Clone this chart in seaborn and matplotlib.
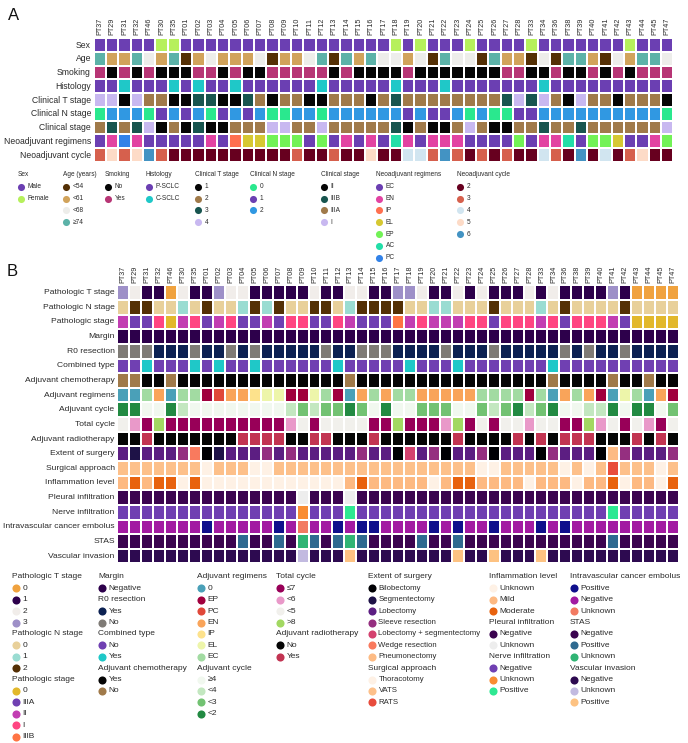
import numpy as np
import pandas as pd
import matplotlib
matplotlib.use("Agg")
import matplotlib.pyplot as plt
import seaborn as sns
from matplotlib.colors import ListedColormap

sns.set_style("white")
plt.rcParams["font.family"] = ["Liberation Sans", "DejaVu Sans"]

W, H = 688, 743
TXT = "#2a2a2a"

patients = ["PT37", "PT29", "PT31", "PT32", "PT46", "PT30", "PT35", "PT01", "PT02", "PT03",
            "PT04", "PT05", "PT06", "PT07", "PT08", "PT09", "PT10", "PT11", "PT12", "PT13",
            "PT14", "PT15", "PT16", "PT17", "PT18", "PT19", "PT20", "PT21", "PT22", "PT23",
            "PT24", "PT25", "PT26", "PT27", "PT28", "PT33", "PT34", "PT36", "PT38", "PT39",
            "PT40", "PT41", "PT42", "PT43", "PT44", "PT45", "PT47"]

# ---------------- panel A : baseline / neoadjuvant ----------------
sex_cats = ["Male", "Female"]
sex_cols = ["#6b3fb2", "#b6f05c"]
sex = [0, 0, 0, 0, 0, 1, 1, 0, 0, 0,
       0, 0, 0, 0, 0, 0, 0, 0, 0, 0,
       0, 0, 0, 0, 1, 0, 1, 0, 0, 0,
       1, 0, 0, 0, 0, 1, 0, 0, 0, 0,
       0, 0, 0, 1, 0, 0, 0]

age_cats = ["<54", "<61", "<68", "\u226574"]
age_cols = ["#543005", "#d1a35b", "#ededea", "#5cb2a8"]
age = [3, 1, 1, 3, 2, 1, 3, 0, 1, 2,
       1, 1, 1, 2, 0, 1, 1, 2, 3, 0,
       3, 1, 3, 2, 2, 1, 2, 0, 3, 2,
       2, 0, 3, 1, 1, 0, 2, 0, 3, 3,
       1, 0, 2, 1, 3, 3, 2]

smoking_cats = ["No", "Yes"]
smoking_cols = ["#050505", "#b73575"]
smoking = [1, 0, 1, 0, 1, 0, 0, 0, 1, 1,
           0, 1, 0, 0, 1, 1, 1, 1, 1, 0,
           1, 0, 0, 0, 0, 1, 0, 0, 0, 0,
           0, 0, 0, 1, 1, 0, 0, 1, 0, 0,
           1, 0, 1, 0, 1, 1, 1]

histology_cats = ["P-SCLC", "C-SCLC"]
histology_cols = ["#6b3fb2", "#1fc8c8"]
histology = [0, 0, 1, 0, 0, 0, 1, 0, 1, 0,
             0, 1, 0, 0, 0, 0, 0, 0, 1, 0,
             0, 0, 0, 0, 1, 0, 0, 0, 1, 0,
             0, 0, 0, 0, 0, 0, 1, 0, 0, 0,
             0, 0, 0, 0, 0, 0, 0]

ct_cats = ["1", "2", "3", "4"]
ct_cols = ["#050505", "#a07a4a", "#18554f", "#c8b8f0"]
ct = [3, 3, 0, 3, 1, 1, 0, 0, 2, 2,
      0, 0, 2, 1, 0, 1, 1, 0, 0, 1,
      1, 1, 0, 1, 2, 1, 1, 1, 1, 1,
      1, 1, 1, 2, 3, 2, 3, 1, 0, 3,
      1, 1, 0, 1, 1, 1, 0]

cn_cats = ["0", "1", "2"]
cn_cols = ["#2ae88e", "#6b3fb2", "#3098e2"]
cn = [0, 2, 2, 2, 0, 1, 2, 1, 2, 0,
      1, 2, 1, 2, 0, 0, 2, 2, 0, 2,
      2, 2, 2, 2, 2, 1, 2, 1, 1, 2,
      0, 2, 0, 0, 1, 1, 2, 2, 2, 2,
      2, 2, 2, 2, 2, 2, 0]

cstage_cats = ["II", "IIIB", "IIIA", "I"]
cstage_cols = ["#050505", "#18554f", "#a07a4a", "#c8b8f0"]
cstage = [2, 1, 2, 1, 3, 0, 2, 0, 1, 0,
          0, 2, 2, 2, 3, 3, 2, 2, 3, 2,
          2, 2, 2, 2, 1, 0, 2, 0, 0, 2,
          3, 2, 0, 0, 2, 2, 1, 2, 2, 1,
          2, 2, 2, 2, 2, 2, 3]

neo_reg_cats = ["EC", "EN", "IP", "EL", "EP", "AC", "PC"]
neo_reg_cols = ["#6b3fb2", "#e243a2", "#ff7050", "#d6c832", "#72f256", "#22dea8", "#3282e8"]
neo_reg = [0, 1, 6, 1, 0, 0, 0, 0, 0, 1,
           0, 2, 3, 3, 4, 4, 4, 0, 4, 0,
           1, 0, 1, 0, 5, 1, 0, 1, 1, 1,
           0, 0, 0, 0, 4, 0, 1, 1, 5, 0,
           4, 4, 3, 0, 0, 1, 4]

neo_cyc_cats = ["2", "3", "4", "5", "6"]
neo_cyc_cols = ["#67001f", "#d6604d", "#d1e5f0", "#fddbc7", "#4393c3"]
neo_cyc = [1, 3, 1, 3, 4, 1, 0, 0, 0, 0,
           0, 0, 0, 0, 0, 0, 1, 0, 0, 1,
           0, 0, 3, 0, 0, 2, 2, 1, 4, 1,
           0, 1, 0, 1, 0, 0, 2, 1, 0, 4,
           0, 2, 0, 1, 3, 0, 0]

# ---------------- panel B : surgery / pathology ----------------
pt_cats = ["0", "1", "2", "3"]
pt_cols = ["#f0a23e", "#2d004b", "#f1edea", "#9e90c8"]
pt = [3, 2, 1, 1, 0, 2, 1, 1, 3, 2,
      2, 1, 1, 1, 1, 1, 2, 1, 1, 2,
      2, 1, 1, 3, 3, 2, 1, 1, 2, 1,
      2, 1, 1, 1, 2, 1, 2, 1, 1, 1,
      1, 3, 1, 0, 0, 0, 0]

pn_cats = ["0", "1", "2"]
pn_cols = ["#e8d09a", "#9adcd2", "#543005"]
pn = [0, 2, 2, 0, 0, 1, 0, 2, 0, 0,
      1, 2, 1, 2, 0, 0, 2, 2, 0, 1,
      2, 2, 2, 2, 0, 0, 1, 1, 0, 0,
      0, 2, 0, 0, 0, 1, 0, 2, 0, 0,
      0, 0, 2, 0, 0, 0, 0]

pstage_cats = ["0", "IIIA", "II", "I", "IIIB"]
pstage_cols = ["#e2b82c", "#7040b2", "#c23eb2", "#ff4582", "#ff7444"]
pstage = [2, 1, 1, 3, 0, 2, 3, 1, 2, 3,
          1, 1, 2, 1, 3, 3, 1, 1, 3, 2,
          1, 1, 1, 4, 2, 3, 2, 2, 2, 3,
          3, 1, 3, 3, 3, 2, 3, 1, 3, 3,
          3, 2, 1, 0, 0, 0, 0]

margin_cats = ["Negative"]
margin_cols = ["#2d004b"]
margin = [0] * 47

r0_cats = ["Yes", "No"]
r0_cols = ["#0c2152", "#7f7b76"]
r0 = [1, 1, 1, 0, 0, 0, 1, 0, 0, 1,
      0, 1, 0, 0, 0, 0, 0, 1, 0, 0,
      1, 1, 1, 0, 0, 0, 0, 1, 0, 0,
      0, 1, 0, 0, 0, 0, 0, 1, 0, 1,
      0, 0, 1, 0, 0, 0, 0]

combined_cats = ["No", "Yes"]
combined_cols = ["#7040b2", "#1fc8c8"]
combined = histology

adj_chemo_cats = ["Yes", "No"]
adj_chemo_cols = ["#050505", "#a07a4a"]
adj_chemo = [1, 1, 0, 0, 1, 0, 0, 0, 0, 0,
             0, 0, 0, 0, 0, 0, 0, 0, 0, 1,
             0, 0, 0, 0, 0, 0, 0, 0, 0, 0,
             0, 0, 0, 0, 0, 0, 1, 0, 0, 0,
             0, 1, 0, 0, 1, 0, 0]

adj_reg_cats = ["0", "EP", "PC", "EN", "IP", "EL", "EC"]
adj_reg_cols = ["#4aa0b8", "#a0003e", "#e0483a", "#f9a45a", "#fde28c", "#edf5aa", "#a2dba2"]
adj_reg = [0, 0, 6, 3, 0, 6, 6, 1, 2, 3,
           3, 4, 5, 5, 1, 1, 5, 6, 1, 0,
           3, 6, 3, 6, 6, 3, 3, 3, 3, 3,
           6, 6, 6, 6, 1, 6, 0, 3, 6, 3,
           1, 0, 5, 6, 0, 3, 1]

adj_cyc_cats = ["\u22654", "<4", "<3", "<2"]
adj_cyc_cols = ["#f1f8ef", "#c3e7c0", "#72c272", "#228a42"]
adj_cyc = [3, 3, 0, 0, 3, 1, 0, 0, 0, 0,
           0, 0, 0, 0, 1, 2, 1, 2, 2, 3,
           2, 0, 3, 0, 0, 2, 2, 2, 0, 0,
           2, 1, 2, 3, 1, 2, 3, 0, 0, 1,
           1, 3, 0, 3, 3, 0, 2]

tot_cyc_cats = ["\u22647", "<6", "<5", ">8"]
tot_cyc_cols = ["#980058", "#e999c9", "#f1f0ec", "#a2d862"]
tot_cyc = [2, 1, 0, 3, 0, 0, 0, 0, 0, 0,
           0, 0, 0, 0, 1, 2, 0, 2, 2, 2,
           2, 0, 0, 3, 0, 0, 0, 1, 3, 0,
           2, 0, 2, 2, 1, 2, 2, 0, 0, 3,
           1, 2, 0, 2, 1, 0, 2]

adj_rt_cats = ["No", "Yes"]
adj_rt_cols = ["#050505", "#c23452"]
adj_rt = [0, 0, 1, 0, 0, 0, 0, 0, 0, 0,
          1, 1, 1, 1, 0, 0, 1, 1, 0, 0,
          0, 1, 0, 0, 0, 0, 0, 0, 1, 0,
          0, 0, 0, 1, 0, 1, 0, 1, 1, 1,
          0, 0, 0, 1, 0, 1, 0]

extent_cats = ["Bilobectomy", "Segmentectomy", "Lobectomy", "Sleeve resection",
               "Lobectomy + segmentectomy", "Wedge resection", "Pneumonectomy"]
extent_cols = ["#000004", "#1e1247", "#5c1e82", "#952f80", "#d4426f", "#f97a5e", "#fdbb84"]
extent = [2, 1, 2, 2, 2, 3, 5, 0, 1, 2,
          2, 2, 3, 2, 3, 2, 2, 2, 2, 2,
          3, 2, 2, 0, 4, 2, 3, 0, 2, 2,
          3, 0, 2, 2, 2, 0, 3, 2, 2, 2,
          0, 6, 3, 2, 2, 2, 3]

approach_cats = ["Thoracotomy", "VATS", "RATS"]
approach_cols = ["#fef1e5", "#fdc08a", "#e84c3c"]
approach = [1, 1, 1, 1, 1, 1, 1, 0, 1, 1,
            1, 0, 0, 1, 1, 1, 1, 1, 1, 1,
            1, 1, 1, 1, 1, 1, 1, 1, 1, 1,
            0, 0, 1, 1, 1, 1, 1, 0, 1, 0,
            1, 2, 1, 1, 1, 0, 1]

inflam_cats = ["Unknown", "Mild", "Moderate"]
inflam_cols = ["#fef1e5", "#fdb982", "#e8620e"]
inflam = [1, 2, 1, 2, 2, 0, 2, 0, 0, 0,
          0, 0, 0, 0, 0, 0, 0, 0, 0, 1,
          2, 1, 1, 1, 1, 1, 0, 1, 2, 2,
          1, 1, 1, 1, 0, 1, 1, 1, 0, 1,
          1, 2, 0, 1, 1, 0, 2]

pleural_cats = ["Negative", "Unknown"]
pleural_cols = ["#3b0450", "#ededed"]
pleural = [0, 0, 0, 0, 0, 0, 0, 0, 0, 0,
           0, 0, 0, 0, 0, 1, 0, 0, 0, 1,
           0, 0, 0, 0, 0, 0, 0, 0, 0, 0,
           0, 0, 0, 0, 0, 0, 0, 0, 0, 0,
           0, 0, 0, 0, 0, 0, 0]

nerve_cats = ["Negative", "Unknown", "Positive"]
nerve_cols = ["#7040b2", "#f98c32", "#2ee892"]
nerve = [0, 0, 0, 0, 0, 0, 0, 0, 0, 0,
         0, 0, 0, 0, 0, 1, 0, 0, 0, 2,
         0, 0, 0, 0, 0, 0, 0, 0, 0, 0,
         0, 0, 0, 0, 0, 0, 0, 0, 0, 0,
         0, 2, 0, 0, 0, 0, 0]

embolus_cats = ["Positive", "Negative", "Unknown"]
embolus_cols = ["#0f0f8c", "#a21aa2", "#f27a62"]
embolus = [1, 1, 1, 1, 1, 1, 1, 0, 1, 1,
           1, 1, 1, 0, 1, 2, 1, 1, 0, 1,
           0, 0, 1, 1, 1, 1, 0, 1, 0, 1,
           1, 0, 1, 1, 1, 0, 1, 0, 1, 1,
           1, 1, 1, 1, 1, 1, 1]

stas_cats = ["Negative", "Positive", "Unknown"]
stas_cols = ["#3b0450", "#2f6a90", "#30b474"]
stas = [0, 0, 0, 0, 0, 0, 0, 0, 0, 0,
        1, 0, 0, 1, 0, 2, 1, 0, 1, 2,
        1, 0, 0, 0, 0, 1, 0, 0, 1, 0,
        0, 0, 0, 0, 0, 0, 0, 0, 0, 0,
        0, 1, 0, 0, 0, 0, 0]

vascular_cats = ["Negative", "Unknown", "Positive"]
vascular_cols = ["#2d0a50", "#c2bae0", "#fdc282"]
vascular = [0, 0, 0, 0, 0, 0, 0, 0, 0, 0,
            0, 0, 0, 0, 0, 1, 0, 0, 0, 2,
            0, 0, 0, 0, 0, 0, 0, 0, 2, 0,
            0, 2, 0, 0, 0, 2, 0, 0, 0, 0,
            0, 0, 0, 0, 0, 0, 0]

panel_a = [
    ("Sex", sex_cats, sex_cols, sex),
    ("Age", age_cats, age_cols, age),
    ("Smoking", smoking_cats, smoking_cols, smoking),
    ("Histology", histology_cats, histology_cols, histology),
    ("Clinical T stage", ct_cats, ct_cols, ct),
    ("Clinical N stage", cn_cats, cn_cols, cn),
    ("Clinical stage", cstage_cats, cstage_cols, cstage),
    ("Neoadjuvant regimens", neo_reg_cats, neo_reg_cols, neo_reg),
    ("Neoadjuvant cycle", neo_cyc_cats, neo_cyc_cols, neo_cyc),
]

panel_b = [
    ("Pathologic T stage", pt_cats, pt_cols, pt),
    ("Pathologic N stage", pn_cats, pn_cols, pn),
    ("Pathologic stage", pstage_cats, pstage_cols, pstage),
    ("Margin", margin_cats, margin_cols, margin),
    ("R0 resection", r0_cats, r0_cols, r0),
    ("Combined type", combined_cats, combined_cols, combined),
    ("Adjuvant chemotherapy", adj_chemo_cats, adj_chemo_cols, adj_chemo),
    ("Adjuvant regimens", adj_reg_cats, adj_reg_cols, adj_reg),
    ("Adjuvant cycle", adj_cyc_cats, adj_cyc_cols, adj_cyc),
    ("Total cycle", tot_cyc_cats, tot_cyc_cols, tot_cyc),
    ("Adjuvant radiotherapy", adj_rt_cats, adj_rt_cols, adj_rt),
    ("Extent of surgery", extent_cats, extent_cols, extent),
    ("Surgical approach", approach_cats, approach_cols, approach),
    ("Inflammation level", inflam_cats, inflam_cols, inflam),
    ("Pleural infiltration", pleural_cats, pleural_cols, pleural),
    ("Nerve infiltration", nerve_cats, nerve_cols, nerve),
    ("Intravascular cancer embolus", embolus_cats, embolus_cols, embolus),
    ("STAS", stas_cats, stas_cols, stas),
    ("Vascular invasion", vascular_cats, vascular_cols, vascular),
]


def encode(panel):
    # every (row, category) pair gets its own code -> one colour in a listed cmap
    codes, colors = [], []
    for name, cats, cols, vals in panel:
        off = len(colors)
        codes.append([off + v for v in vals])
        colors += cols
    df = pd.DataFrame(codes, index=[p[0] for p in panel], columns=patients)
    return df, ListedColormap(colors)


def px_axes(fig, x0, y0, x1, y1):
    return fig.add_axes([x0 / W, 1 - y1 / H, (x1 - x0) / W, (y1 - y0) / H])


def draw_panel(ax, panel, ylab_fs):
    df, cmap = encode(panel)
    sns.heatmap(df, ax=ax, cmap=cmap, vmin=-0.5, vmax=cmap.N - 0.5, cbar=False,
                linewidths=1.2, linecolor="white", xticklabels=True, yticklabels=True)
    ax.xaxis.tick_top()
    ax.tick_params(axis="both", length=0, pad=2, colors=TXT)
    ax.set_xlabel("")
    ax.set_ylabel("")
    plt.setp(ax.get_xticklabels(), rotation=90, fontsize=5.2, color=TXT)
    plt.setp(ax.get_yticklabels(), rotation=0, fontsize=ylab_fs, color=TXT)


fig = plt.figure(figsize=(W / 100, H / 100), dpi=100)

ax_a = px_axes(fig, 93.8, 38.2, 673.4, 162.0)
draw_panel(ax_a, panel_a, 6.2)

ax_b = px_axes(fig, 117.4, 285.4, 678.8, 563.4)
draw_panel(ax_b, panel_b, 6.1)

fig.text(8 / W, 1 - 15 / H, "A", fontsize=12, va="center", ha="left", color="#111")
fig.text(7 / W, 1 - 272 / H, "B", fontsize=12, va="center", ha="left", color="#111")

# ---------------- legends (drawn on a pixel-coordinate overlay) ----------------
lax = fig.add_axes([0, 0, 1, 1])
lax.set_xlim(0, W)
lax.set_ylim(H, 0)
lax.axis("off")


def legend_column(x, y, groups, dy, fs, ms, dx_dot, dx_txt, entry_fs=None):
    entry_fs = entry_fs or fs
    for title, cats, cols in groups:
        lax.text(x, y, title, fontsize=fs, va="center", ha="left", color=TXT)
        y += dy
        for c, col in zip(cats, cols):
            lax.scatter([x + dx_dot], [y], s=ms, color=col, linewidths=0)
            lax.text(x + dx_txt, y, c, fontsize=entry_fs, va="center", ha="left", color=TXT)
            y += dy
    return y


a_leg_x = [18, 63, 105, 146, 195, 250, 321, 376, 457]
a_leg_titles = ["Sex", "Age (years)", "Smoking", "Histology", "Clinical T stage",
                "Clinical N stage", "Clinical stage", "Neoadjuvant regimens", "Neoadjuvant cycle"]
for x, title, (name, cats, cols, vals) in zip(a_leg_x, a_leg_titles, panel_a):
    legend_column(x, 175, [(title, cats, cols)], 11.8, 4.7, 26, 3, 9.5)

b = {p[0]: p for p in panel_b}


def grp(name):
    return (name, b[name][1], b[name][2])


b_leg = [
    (12, ["Pathologic T stage", "Pathologic N stage", "Pathologic stage"], None),
    (98, ["Margin", "R0 resection", "Combined type", "Adjuvant chemotherapy"], None),
    (197, ["Adjuvant regimens", "Adjuvant cycle"], None),
    (276, ["Total cycle", "Adjuvant radiotherapy"], None),
    (368, ["Extent of surgery", "Surgical approach"], 5.6),
    (489, ["Inflammation level", "Pleural infiltration", "Nerve infiltration"], None),
    (570, ["Intravascular cancer embolus", "STAS", "Vascular invasion"], None),
]
for x, names, efs in b_leg:
    legend_column(x, 577, [grp(n) for n in names], 11.4, 6.0, 34, 4, 10.5, efs)

fig.savefig("out.png", dpi=100)
